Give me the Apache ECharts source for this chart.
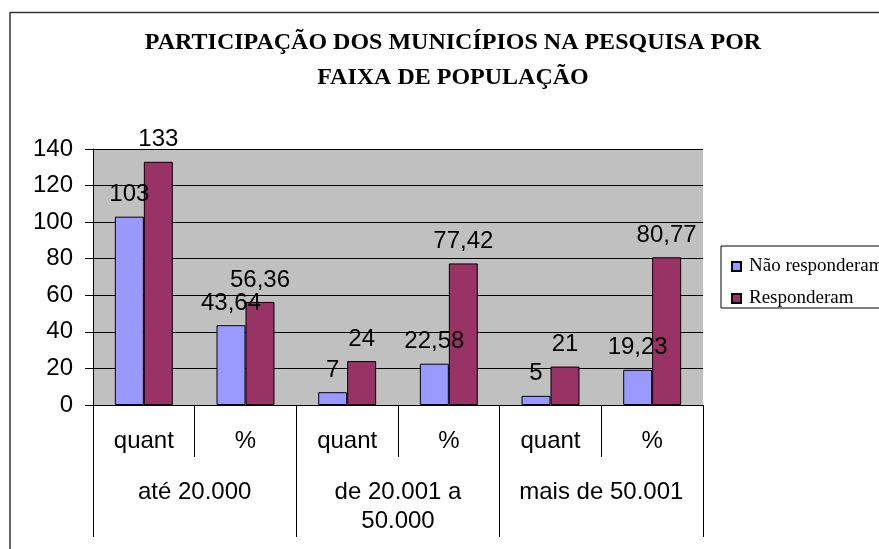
<!DOCTYPE html>
<html>
<head>
<meta charset="utf-8">
<script src="https://cdn.jsdelivr.net/npm/echarts@6/dist/echarts.min.js"></script>
<style>
  html, body { margin: 0; padding: 0; background: #fff; }
  #chart { width: 879px; height: 549px; }
</style>
</head>
<body>
<div id="chart"></div>
<script>
// faixas de população e sub-categorias
var groups = ['até 20.000', 'de 20.001 a\n50.000', 'mais de 50.001'];
var subCats = ['quant', '%', 'quant', '%', 'quant', '%'];
var naoResponderam = [103, 43.64, 7, 22.58, 5, 19.23];
var responderam = [133, 56.36, 24, 77.42, 21, 80.77];
var yTicks = { min: 0, max: 140, step: 20 };

var chart = echarts.init(document.getElementById('chart'));

// rótulo com vírgula decimal
function fmt(p) {
  return String(p.value).replace('.', ',');
}

var labelFont = { fontFamily: 'Liberation Sans', fontSize: 24, color: '#000' };

var option = {
  animation: false,
  title: {
    text: 'PARTICIPAÇÃO DOS MUNICÍPIOS NA PESQUISA POR\nFAIXA DE POPULAÇÃO',
    left: 448,
    textAlign: 'center',
    top: 20,
    textStyle: {
      fontFamily: 'Liberation Serif',
      fontWeight: 'bold',
      fontSize: 24,
      lineHeight: 35,
      color: '#000'
    }
  },
  legend: {
    orient: 'vertical',
    left: 721,
    top: 246,
    padding: [11, 60, 0, 10],
    itemGap: 13,
    itemWidth: 9,
    itemHeight: 9,
    icon: 'rect',
    borderColor: '#000',
    borderWidth: 1,
    textStyle: { fontFamily: 'Liberation Serif', fontSize: 19, color: '#000', padding: [0, 0, 0, 3] },
    data: ['Não responderam', 'Responderam']
  },
  grid: {
    left: 93,
    right: 176,
    top: 149,
    bottom: 144,
    show: true,
    backgroundColor: '#C0C0C0',
    borderWidth: 0
  },
  xAxis: [{
    type: 'category',
    data: subCats,
    position: 'bottom',
    axisLine: { lineStyle: { color: '#000', width: 1 } },
    axisTick: { show: true, length: 52, interval: 0, lineStyle: { color: '#000' } },
    axisLabel: Object.assign({ interval: 0, margin: 24 }, labelFont)
  }, {
    type: 'category',
    data: groups,
    position: 'bottom',
    axisLine: { show: false },
    axisTick: { show: true, length: 132, interval: 0, lineStyle: { color: '#000' } },
    axisLabel: Object.assign({ interval: 0, margin: 73, lineHeight: 29 }, labelFont)
  }],
  yAxis: {
    type: 'value',
    min: yTicks.min,
    max: yTicks.max,
    interval: yTicks.step,
    axisLine: { show: true, lineStyle: { color: '#000', width: 1 } },
    axisTick: { show: true, inside: false, length: 8, lineStyle: { color: '#000', width: 1 } },
    axisLabel: Object.assign({ margin: 20 }, labelFont),
    splitLine: { lineStyle: { color: '#000', width: 1 } }
  },
  series: [{
    name: 'Não responderam',
    type: 'bar',
    xAxisIndex: 0,
    data: naoResponderam,
    barGap: '0%',
    barCategoryGap: '43%',
    itemStyle: { color: '#9999FF', borderColor: '#000', borderWidth: 1 },
    label: Object.assign({ show: true, position: 'top', distance: 10, formatter: fmt }, labelFont)
  }, {
    name: 'Responderam',
    type: 'bar',
    xAxisIndex: 0,
    data: responderam,
    itemStyle: { color: '#993366', borderColor: '#000', borderWidth: 1 },
    label: Object.assign({ show: true, position: 'top', distance: 10, formatter: fmt }, labelFont)
  }],
  graphic: [
    { type: 'line', shape: { x1: 10, y1: 12.5, x2: 879, y2: 12.5 }, style: { stroke: '#333', lineWidth: 1.5 } },
    { type: 'line', shape: { x1: 10, y1: 12, x2: 10, y2: 549 }, style: { stroke: '#333', lineWidth: 1.5 } }
  ]
};

chart.setOption(option);
</script>
</body>
</html>
